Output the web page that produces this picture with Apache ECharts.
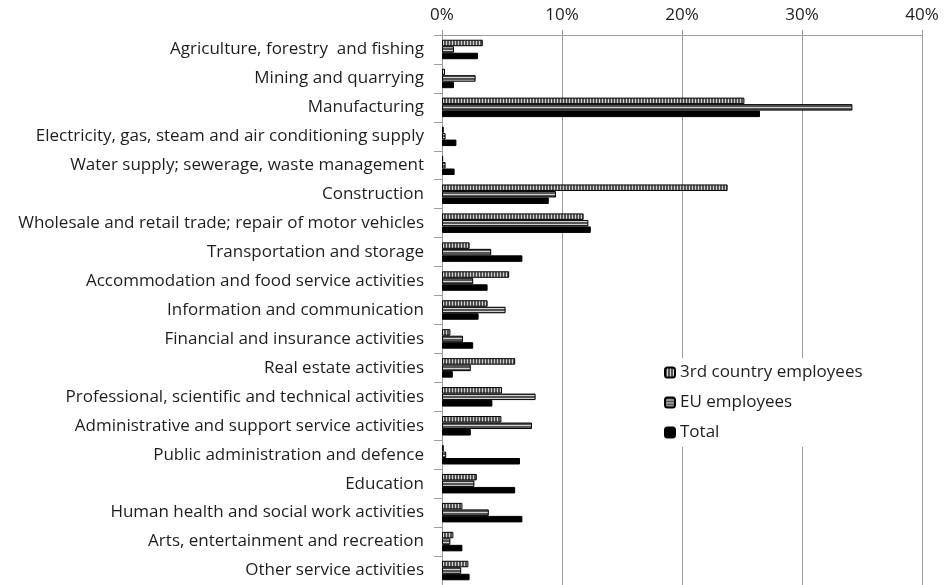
<!DOCTYPE html>
<html>
<head>
<meta charset="utf-8">
<script src="https://cdn.jsdelivr.net/npm/echarts@6/dist/echarts.min.js"></script>
<style>
  html, body { margin: 0; padding: 0; background: #fff; }
  #chart { width: 949px; height: 585px; }
</style>
</head>
<body>
<div id="chart"></div>
<script>
// Share of employees by economic activity (%)
const categories = [
  'Agriculture, forestry  and fishing',
  'Mining and quarrying',
  'Manufacturing',
  'Electricity, gas, steam and air conditioning supply',
  'Water supply; sewerage, waste management',
  'Construction',
  'Wholesale and retail trade; repair of motor vehicles',
  'Transportation and storage',
  'Accommodation and food service activities',
  'Information and communication',
  'Financial and insurance activities',
  'Real estate activities',
  'Professional, scientific and technical activities',
  'Administrative and support service activities',
  'Public administration and defence',
  'Education',
  'Human health and social work activities',
  'Arts, entertainment and recreation',
  'Other service activities'
];
const thirdCountry = [3.4, 0.25, 25.2, 0.15, 0.1, 23.8, 11.8, 2.3, 5.6, 3.8, 0.7, 6.1, 5.0, 4.95, 0.15, 2.9, 1.7, 0.95, 2.2];
const euEmployees  = [1.0, 2.8, 34.2, 0.3, 0.3, 9.5, 12.2, 4.1, 2.6, 5.3, 1.75, 2.4, 7.8, 7.5, 0.35, 2.7, 3.9, 0.7, 1.6];
const totalShare   = [3.0, 1.0, 26.5, 1.2, 1.05, 8.9, 12.4, 6.7, 3.8, 3.05, 2.6, 0.9, 4.2, 2.4, 6.5, 6.1, 6.7, 1.7, 2.3];
const seriesNames = ['3rd country employees', 'EU employees', 'Total'];

// Hatch fills drawn on small canvases
function stripes(vertical) {
  const c = document.createElement('canvas');
  c.width = vertical ? 3 : 1;
  c.height = vertical ? 1 : 3;
  const g = c.getContext('2d');
  g.fillStyle = '#d0d0d0';
  g.fillRect(0, 0, c.width, c.height);
  g.fillStyle = '#555555';
  if (vertical) g.fillRect(0, 0, 2, 1); else g.fillRect(0, 0, 1, 2);
  return { image: c, repeat: 'repeat' };
}

const fills = [stripes(true), stripes(false), '#000000'];
const dataSets = [thirdCountry, euEmployees, totalShare];
const font = 'Open Sans';
const textColor = '#1e1e1e';

const chart = echarts.init(document.getElementById('chart'), null, { renderer: 'canvas' });
chart.setOption({
  animation: false,
  backgroundColor: '#ffffff',
  textStyle: { fontFamily: font },
  grid: { left: 442, right: 27, top: 35, bottom: 0, containLabel: false },
  legend: {
    orient: 'vertical',
    left: 656,
    top: 358,
    itemWidth: 10,
    itemHeight: 10,
    itemGap: 13,
    padding: [6, 8, 6, 8],
    backgroundColor: '#ffffff',
    textStyle: { fontFamily: font, fontSize: 17, color: textColor },
    data: seriesNames
  },
  xAxis: {
    type: 'value',
    position: 'top',
    min: 0,
    max: 40,
    interval: 10,
    axisLabel: { formatter: '{value}%', fontFamily: font, fontSize: 17, color: textColor, margin: 11 },
    axisLine: { show: true, lineStyle: { color: '#9a9a9a', width: 1 } },
    axisTick: { show: true, length: 5, lineStyle: { color: '#9a9a9a' } },
    splitLine: { show: true, lineStyle: { color: '#9a9a9a', width: 1 } }
  },
  yAxis: {
    type: 'category',
    inverse: true,
    data: categories,
    axisLine: { show: true, lineStyle: { color: '#9a9a9a', width: 1 } },
    axisTick: { show: true, length: 8, lineStyle: { color: '#9a9a9a' } },
    axisLabel: { fontFamily: font, fontSize: 17, color: textColor, margin: 18 },
    splitLine: { show: false }
  },
  series: dataSets.map((d, i) => ({
    name: seriesNames[i],
    type: 'bar',
    data: d,
    barWidth: 6.5,
    barGap: '0%',
    itemStyle: { color: fills[i], borderColor: '#000000', borderWidth: 1 },
    emphasis: { disabled: true }
  }))
});
</script>
</body>
</html>
